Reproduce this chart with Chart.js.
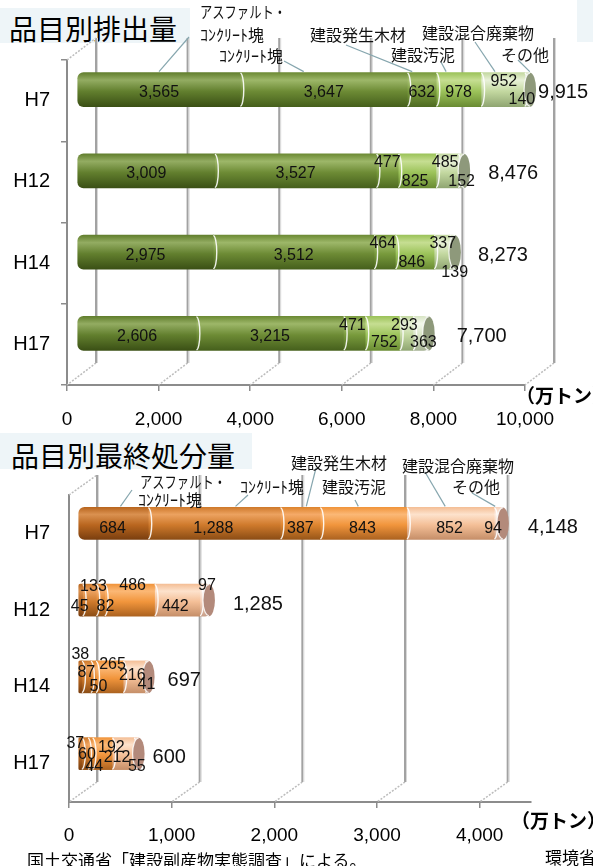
<!DOCTYPE html>
<html lang="ja">
<head>
<meta charset="utf-8">
<title>品目別排出量・品目別最終処分量</title>
<script src="https://cdn.jsdelivr.net/npm/chart.js@4.4.1/dist/chart.umd.min.js"></script>
<style>
  html, body { margin: 0; padding: 0; background: #fff; }
  body { position: relative; width: 593px; height: 866px; overflow: hidden;
         font-family: "Noto Sans CJK JP", sans-serif; color: #000; }
  .title { position: absolute; background: #eef5f8; font-size: 28px; white-space: nowrap; }
  .unit { position: absolute; font-size: 19px; font-weight: bold; line-height: 24px; white-space: nowrap; }
  .note { position: absolute; font-size: 17px; line-height: 20px; white-space: nowrap; }
  canvas { position: absolute; left: 0; }
</style>
</head>
<body>
<div class="title" style="left:0;top:8px;width:181px;height:35px;line-height:40px;padding-left:9px;">品目別排出量</div>
<div class="title" style="left:577px;top:0;width:16px;height:42px;"></div>
<div class="title" style="left:0;top:433px;width:241px;height:36px;line-height:44px;padding-left:11px;">品目別最終処分量</div>
<canvas id="emit" width="593" height="430" style="top:0"></canvas>
<canvas id="disp" width="593" height="436" style="top:430px"></canvas>
<div class="unit" style="left:516px;top:383px;">（万トン）</div>
<div class="unit" style="left:511px;top:808px;">（万トン）</div>
<div class="note" style="left:27px;top:850px;">国土交通省「建設副産物実態調査」による。</div>
<div class="note" style="left:545px;top:847px;">環境省</div>

<script>
// --- DATA (万トン) ---
const categories = ['H7', 'H12', 'H14', 'H17'];
const seriesNames = ['アスファルト・ｺﾝｸﾘｰﾄ塊', 'ｺﾝｸﾘｰﾄ塊', '建設発生木材', '建設汚泥', '建設混合廃棄物', 'その他'];

// 品目別排出量
const emitAsphalt  = [3565, 3009, 2975, 2606];
const emitConcrete = [3647, 3527, 3512, 3215];
const emitWood     = [632, 477, 464, 471];
const emitSludge   = [978, 825, 846, 752];
const emitMixed    = [952, 485, 337, 293];
const emitOther    = [140, 152, 139, 363];
const emitTotal    = [9915, 8476, 8273, 7700];
const emitTicks    = [0, 2000, 4000, 6000, 8000, 10000];

// 品目別最終処分量
const dispAsphalt  = [684, 45, 38, 37];
const dispConcrete = [1288, 133, 87, 60];
const dispWood     = [387, 82, 50, 44];
const dispSludge   = [843, 486, 265, 192];
const dispMixed    = [852, 442, 216, 212];
const dispOther    = [94, 97, 41, 55];
const dispTotal    = [4148, 1285, 697, 600];
const dispTicks    = [0, 1000, 2000, 3000, 4000];

Chart.defaults.font.family = '"Liberation Sans", Arial, sans-serif';

// --- STYLES ---
// [base, highlight, shadow] per series
const greens = [
    ['#627f2e', '#93ac62', '#3b5015'],
    ['#6d8b35', '#9db769', '#46601c'],
    ['#789a3c', '#a6c070', '#4f6b22'],
    ['#9cc35a', '#c6de92', '#6a8c33'],
    ['#c3d8a0', '#e8f1d8', '#90a672'],
    ['#d9e5c6', '#f3f8ec', '#a6b294']
];
const oranges = [
    ['#b9661f', '#da9150', '#7b3f0f'],
    ['#cf7a2c', '#eca260', '#8c4d15'],
    ['#de852f', '#f5aa68', '#985618'],
    ['#f1953c', '#fbb876', '#ad6320'],
    ['#f4bf97', '#fde2cc', '#c68f69'],
    ['#f6d2bc', '#fdeee3', '#c89f89']
];

// label nudges [dx, dy] per series, per category
const emitLabelShift = [
    [[0, 3], [0, 3], [0, 3], [0, 3]],
    [[0, 3], [0, 3], [0, 3], [0, 3]],
    [[0, 3], [0, -8], [-2, -9], [-2, -8]],
    [[0, 3], [-2, 11], [-3, 10], [2, 9]],
    [[1, -8], [-2, -8], [1, -9], [-2, -8]],
    [[-6, 10], [0, 11], [2, 20], [2, 9]]
];
const dispLabelShift = [
    [[-1, 5], [-1, 6], [0, -22], [-5, -10]],
    [[-1, 5], [4, -14], [0, -4], [2, 1]],
    [[0, 5], [5, 6], [5, 10], [4, 13]],
    [[-1, 5], [3, -15], [3, -12], [9, -6]],
    [[-1, 5], [-2, 6], [-2, -1], [-6, 4]],
    [[-6, 5], [2, -15], [-1, 8], [0, 13]]
];

// callout text spots and leader starts
const emitCallouts = [
    { text: [[200, 12], [200, 35]], from: [189, 37], at: 0.5 },
    { text: [[219, 56]], from: [284, 61], at: 0.38 },
    { text: [[310, 35]], from: [346, 45], at: 0.17 },
    { text: [[391, 55]], from: [441, 62], at: 0.22 },
    { text: [[422, 33]], from: [475, 42], at: 0.32 },
    { text: [[501, 55]], from: [518, 60], at: 0.8 }
];
const dispCallouts = [
    { text: [[140, 52], [138, 70]], from: [132, 60], at: 0.6 },
    { text: [[240, 57]], from: [248, 65], at: 0.66 },
    { text: [[291, 33]], from: [316, 38], at: 0.65 },
    { text: [[322, 57]], from: [355, 70], at: 0.44 },
    { text: [[402, 36]], from: [425, 42], at: 0.44 },
    { text: [[452, 57]], from: [472, 63], at: 0.1 }
];

function fmt(v) { return v.toLocaleString('en-US'); }

function nameLines(name) {
    const k = name.indexOf('・');
    return k >= 0 ? [name.slice(0, k + 1), name.slice(k + 1)] : [name];
}

// vertical gradient so each bar looks like a cylinder
function shade(colors, thick) {
    return function (c) {
        const chart = c.chart;
        if (c.type !== 'data' || !chart.chartArea) return colors[0];
        const yc = chart.scales.y.getPixelForValue(c.dataIndex);
        const g = chart.ctx.createLinearGradient(0, yc - thick / 2, 0, yc + thick / 2);
        g.addColorStop(0, colors[0]);
        g.addColorStop(0.22, colors[1]);
        g.addColorStop(0.55, colors[0]);
        g.addColorStop(1, colors[2]);
        return g;
    };
}

// back wall, 3D offset, caps, labels, callouts
function cylinder(cfg) {
    return {
        id: 'cylinder',
        beforeDatasetsDraw(chart) {
            const { ctx, chartArea: a } = chart;
            const x = chart.scales.x;
            const [dx, dy] = cfg.depth;
            ctx.save();
            cfg.ticks.forEach(v => {
                const px = x.getPixelForValue(v);
                const bx = px + dx;
                ctx.strokeStyle = '#a2a2a2'; ctx.lineWidth = 2;
                ctx.beginPath(); ctx.moveTo(bx, a.top + dy); ctx.lineTo(bx, a.bottom + dy); ctx.stroke();
                ctx.strokeStyle = '#d8d8d8'; ctx.lineWidth = 1;
                ctx.beginPath(); ctx.moveTo(bx + 1.5, a.top + dy); ctx.lineTo(bx + 1.5, a.bottom + dy); ctx.stroke();
                ctx.strokeStyle = '#bcbcbc'; ctx.lineWidth = 1.5; ctx.setLineDash([2, 1.5]);
                ctx.beginPath(); ctx.moveTo(bx, a.bottom + dy); ctx.lineTo(px, a.bottom); ctx.stroke();
                ctx.setLineDash([]);
            });
            ctx.strokeStyle = '#bcbcbc'; ctx.lineWidth = 1.5; ctx.setLineDash([2, 1.5]);
            ctx.beginPath(); ctx.moveTo(a.left, a.top); ctx.lineTo(a.left + dx, a.top + dy); ctx.stroke();
            ctx.restore();
            ctx.save();
            ctx.translate(cfg.shift[0], cfg.shift[1]);
        },
        afterDatasetsDraw(chart) {
            const ctx = chart.ctx;
            const metas = chart.data.datasets.map((d, i) => chart.getDatasetMeta(i));
            const last = metas.length - 1;
            const h = cfg.thick;

            ctx.strokeStyle = 'rgba(255,255,255,0.9)'; ctx.lineWidth = 1.4;
            metas.forEach((m, i) => {
                if (i === last) return;
                m.data.forEach(el => {
                    ctx.beginPath();
                    ctx.ellipse(el.x, el.y, 3.5, h / 2 - 0.5, 0, -Math.PI / 2, Math.PI / 2);
                    ctx.stroke();
                });
            });

            metas[last].data.forEach(el => {
                ctx.fillStyle = cfg.cap;
                ctx.beginPath(); ctx.ellipse(el.x - 1, el.y, 6, h / 2, 0, 0, Math.PI * 2); ctx.fill();
                ctx.strokeStyle = 'rgba(255,255,255,0.85)'; ctx.lineWidth = 1.2;
                ctx.beginPath(); ctx.ellipse(el.x - 1, el.y, 6, h / 2 - 0.5, 0, Math.PI / 2, Math.PI * 1.5); ctx.stroke();
            });

            ctx.fillStyle = '#111';
            ctx.font = '16px "Liberation Sans", Arial, sans-serif';
            ctx.textAlign = 'center'; ctx.textBaseline = 'middle';
            metas.forEach((m, i) => {
                m.data.forEach((el, j) => {
                    const s = cfg.labelShift[i][j];
                    ctx.fillText(fmt(chart.data.datasets[i].data[j]), (el.base + el.x) / 2 + s[0], el.y + s[1]);
                });
            });

            ctx.font = '20px "Liberation Sans", Arial, sans-serif';
            ctx.textAlign = 'left';
            metas[last].data.forEach((el, j) => {
                ctx.fillText(fmt(cfg.totals[j]), el.x + cfg.totalDx[j], el.y + cfg.totalDy);
            });
            ctx.restore();
        },
        afterDraw(chart) {
            const ctx = chart.ctx;
            ctx.save();
            ctx.strokeStyle = '#86a6ae'; ctx.lineWidth = 1.2;
            ctx.fillStyle = '#111';
            ctx.textAlign = 'left'; ctx.textBaseline = 'middle';
            ctx.font = '16px "Noto Sans CJK JP", sans-serif';
            cfg.callouts.forEach((c, i) => {
                const el = chart.getDatasetMeta(i).data[0];
                const x0 = el.base + cfg.shift[0], x1 = el.x + cfg.shift[0];
                const ax = x0 + c.at * (x1 - x0);
                const ay = el.y + cfg.shift[1] - cfg.thick / 2 - 1;
                ctx.beginPath(); ctx.moveTo(c.from[0], c.from[1]); ctx.lineTo(ax, ay); ctx.stroke();
                nameLines(seriesNames[i]).forEach((t, k) => {
                    const p = c.text[k];
                    if (t.endsWith('・')) ctx.fillText(t, p[0], p[1], 86);
                    else ctx.fillText(t, p[0], p[1]);
                });
            });
            ctx.restore();
        }
    };
}

function build(id, cfg) {
    return new Chart(document.getElementById(id), {
        type: 'bar',
        data: {
            labels: categories,
            datasets: cfg.series.map((vals, i) => ({
                label: seriesNames[i],
                data: vals,
                backgroundColor: shade(cfg.colors[i], cfg.thick),
                borderWidth: 0,
                borderRadius: 6,
                borderSkipped: 'middle',
                barThickness: cfg.thick,
                clip: false
            }))
        },
        options: {
            indexAxis: 'y',
            responsive: false,
            animation: false,
            layout: { padding: cfg.padding },
            plugins: { legend: { display: false }, tooltip: { enabled: false } },
            scales: {
                x: {
                    stacked: true, min: 0, max: cfg.max,
                    afterBuildTicks: s => { s.ticks = cfg.ticks.map(v => ({ value: v })); },
                    afterFit: s => { s.height = cfg.xHeight; },
                    grid: { drawOnChartArea: false, tickLength: 6, color: '#8c8c8c', lineWidth: 1.5 },
                    border: { color: '#8c8c8c', width: 2 },
                    ticks: { padding: cfg.xPad, color: '#000', font: { size: 19 }, maxRotation: 0, autoSkip: false,
                             callback: v => fmt(v) }
                },
                y: {
                    stacked: true,
                    afterFit: s => { s.width = cfg.yWidth; },
                    grid: { drawOnChartArea: false, drawTicks: cfg.yTicks, tickLength: 6, color: '#8c8c8c', lineWidth: 1.5 },
                    border: { color: '#8c8c8c', width: 2 },
                    ticks: { padding: cfg.yPad, color: '#000', font: { size: 20 } }
                }
            }
        },
        plugins: [cylinder(cfg)]
    });
}

// --- CHARTS ---
build('emit', {
    series: [emitAsphalt, emitConcrete, emitWood, emitSludge, emitMixed, emitOther],
    totals: emitTotal, ticks: emitTicks, max: 10000,
    colors: greens, cap: '#8e997b', thick: 34,
    padding: { top: 60, right: 68, left: 0, bottom: 0 },
    xHeight: 45, xPad: 17, yWidth: 67, yPad: 11, yTicks: true,
    depth: [29, -22], shift: [10, -11],
    labelShift: emitLabelShift, totalDx: [7, 23, 22, 27], totalDy: 3,
    callouts: emitCallouts
});

build('disp', {
    series: [dispAsphalt, dispConcrete, dispWood, dispSludge, dispMixed, dispOther],
    totals: dispTotal, ticks: dispTicks, max: 4500,
    colors: oranges, cap: '#b38a7b', thick: 32,
    padding: { top: 65, right: 62, left: 0, bottom: 0 },
    xHeight: 64, xPad: 16, yWidth: 69, yPad: 19, yTicks: false,
    depth: [28, -20], shift: [9, -10],
    labelShift: dispLabelShift, totalDx: [24, 23, 18, 13], totalDy: 4,
    callouts: dispCallouts
});
</script>
</body>
</html>
